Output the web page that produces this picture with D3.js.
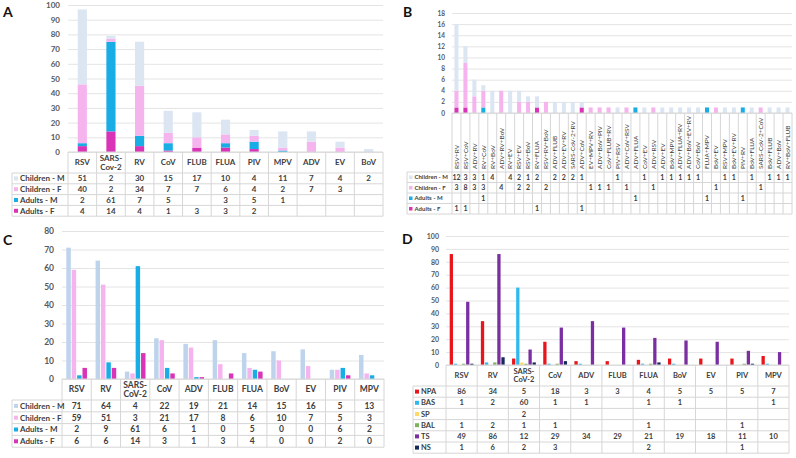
<!DOCTYPE html>
<html><head><meta charset="utf-8">
<script src="https://cdn.jsdelivr.net/npm/d3@7"></script>
<style>body{margin:0;background:#fff} svg{display:block} text{font-family:Lato,"Open Sans",sans-serif}</style>
</head><body><svg id="chart" width="796" height="458"></svg>
<script>
// ---------- Panel A ----------
const catsA = ["RSV","SARS-|Cov-2","RV","CoV","FLUB","FLUA","PIV","MPV","ADV","EV","BoV"];
const childMA = [51,2,30,15,17,10,4,11,7,4,2];
const childFA = [40,2,34,7,7,6,4,2,7,3,null];
const adultMA = [2,61,7,5,null,3,5,1,null,null,null];
const adultFA = [4,14,4,1,3,3,2,null,null,null,null];
const ticksA = [0,10,20,30,40,50,60,70,80,90,100];

// ---------- Panel B ----------
const catsB = ["RSV+RV","RSV+CoV","ADV+RV","RV+CoV","RV+BoV","ADV+RV+BoV","RV+EV","RSV+EV","RSV+BoV","RV+FLUA",
  "RSV+RV+BoV","ADV+FLUB","ADV+EV+RV","SARS-CoV-2+RV","ADV+CoV","EV+MPV+RV","ADV+BoV+PIV","CoV+FLUB+RV","PIV+RSV","ADV+CoV+RSV",
  "ADV+FLUA","CoV+EV","ADV+RSV","ADV+EV","BoV+MPV","ADV+FLUA+RV","ADV+BoV+EV+RV","CoV+BoV","FLUA+MPV","BoV+EV",
  "RSV+MPV","BoV+EV+RV","PIV+RV","BoV+FLUA","SARS-CoV-2+CoV","BoV+FLUB","ADV+BoV","RV+BoV+FLUB"];
const childMB = [12,3,3,1,4,null,4,2,1,2, null,2,2,2,1,null,null,null,1,null, null,1,null,1,1,1,1,1,null,null, 1,1,null,1,null,1,1,1];
const childFB = [3,8,3,3,null,4,null,2,2,null, 2,null,null,null,null,1,1,1,null,1, null,null,1,null,null,null,null,null,null,1, null,null,null,null,1,null,null,null];
const adultMB = [null,null,null,1,null,null,null,null,null,null, null,null,null,null,null,null,null,null,null,null, 1,null,null,null,null,null,null,null,1,null, null,null,1,null,null,null,null,null];
const adultFB = [1,1,null,null,null,null,null,null,null,1, null,null,null,null,1,null,null,null,null,null, null,null,null,null,null,null,null,null,null,null, null,null,null,null,null,null,null,null];
const ticksB = [0,2,4,6,8,10,12,14,16,18];

// ---------- Panel C ----------
const catsC = ["RSV","RV","SARS-|CoV-2","CoV","ADV","FLUB","FLUA","BoV","EV","PIV","MPV"];
const childMC = [71,64,4,22,19,21,14,15,16,5,13];
const childFC = [59,51,3,21,17,8,6,10,7,5,3];
const adultMC = [2,9,61,6,1,0,5,0,0,6,2];
const adultFC = [6,6,14,3,1,3,4,0,0,2,0];
const ticksC = [0,10,20,30,40,50,60,70,80];

// ---------- Panel D ----------
const catsD = ["RSV","RV","SARS-|CoV-2","CoV","ADV","FLUB","FLUA","BoV","EV","PIV","MPV"];
const npaD = [86,34,5,18,3,3,4,5,5,5,7];
const basD = [1,2,60,1,1,null,1,1,null,null,1];
const spD  = [null,null,2,null,null,null,null,null,null,null,null];
const balD = [1,2,1,1,null,null,1,null,null,1,null];
const tsD  = [49,86,12,29,34,29,21,19,18,11,10];
const nsD  = [1,6,2,3,null,null,2,null,null,1,null];
const ticksD = [0,10,20,30,40,50,60,70,80,90,100];

const svg = d3.select("#chart");

function panel(cfg) {
  const g = svg.append("g");
  const n = cfg.cats.length;
  const x = d3.scaleBand().domain(d3.range(n)).range([cfg.x0, cfg.x1]);
  const bw = x.bandwidth();
  const y = d3.scaleLinear().domain([0, cfg.yMax]).range([cfg.yBase, cfg.yTop]);

  // panel letter
  g.append("text").attr("x", cfg.lx).attr("y", cfg.ly).text(cfg.letter)
    .attr("font-family", "Liberation Sans, Arial, sans-serif").attr("font-weight", "bold")
    .attr("font-size", 14).attr("fill", "#111");

  // axis with gridlines
  const ax = g.append("g").attr("transform", `translate(${cfg.x0},0)`)
    .call(d3.axisLeft(y).tickValues(cfg.ticks).tickSize(-(cfg.x1 - cfg.x0)).tickPadding(cfg.x0 - cfg.tickRight));
  ax.select(".domain").remove();
  ax.selectAll(".tick line").attr("stroke", "#e4e4e4");
  ax.selectAll(".tick text").attr("font-size", cfg.fTick).attr("fill", "#595959")
    .attr("font-weight", "bold").style("font-family", "Lato, sans-serif");

  // bars
  if (cfg.mode === "stack") {
    const order = cfg.series.slice().reverse();
    const bwBar = bw * cfg.barFrac;
    for (let i = 0; i < n; i++) {
      let acc = 0;
      order.forEach(s => {
        const v = s.values[i];
        if (v) {
          g.append("rect").attr("x", x(i) + (bw - bwBar) / 2).attr("width", bwBar)
            .attr("y", y(acc + v)).attr("height", y(acc) - y(acc + v)).attr("fill", s.color);
          acc += v;
        }
      });
    }
  } else {
    const inner = d3.scaleBand().domain(d3.range(cfg.series.length)).range([0, bw])
      .paddingInner(cfg.pInner).paddingOuter(cfg.pOuter);
    cfg.series.forEach((s, si) => {
      s.values.forEach((v, i) => {
        if (v) {
          g.append("rect").attr("x", x(i) + inner(si)).attr("width", inner.bandwidth())
            .attr("y", y(v)).attr("height", y(0) - y(v)).attr("fill", s.color);
        }
      });
    });
  }

  // table
  const rows = cfg.series.length;
  const tBottom = cfg.hdrBottom + rows * cfg.rowH;
  const lc = "#d6d6d6";
  g.append("line").attr("x1", cfg.x0).attr("x2", cfg.x1).attr("y1", cfg.yBase).attr("y2", cfg.yBase).attr("stroke", lc);
  for (let r = 0; r <= rows; r++) {
    const yy = cfg.hdrBottom + r * cfg.rowH;
    g.append("line").attr("x1", cfg.legendLeft).attr("x2", cfg.x1).attr("y1", yy).attr("y2", yy).attr("stroke", lc);
  }
  for (let i = 0; i <= n; i++) {
    const xx = cfg.x0 + i * bw;
    g.append("line").attr("x1", xx).attr("x2", xx).attr("y1", cfg.yBase).attr("y2", tBottom).attr("stroke", lc);
  }
  g.append("line").attr("x1", cfg.legendLeft).attr("x2", cfg.legendLeft).attr("y1", cfg.hdrBottom).attr("y2", tBottom).attr("stroke", lc);

  // header
  cfg.cats.forEach((c, i) => {
    const cx = x(i) + bw / 2;
    if (cfg.rotate) {
      g.append("text").attr("transform", `translate(${cx + 2.3},${cfg.hdrBottom - 3}) rotate(-90)`)
        .attr("font-size", cfg.fCat).attr("fill", "#404040").attr("font-weight", "normal").text(c);
    } else {
      const parts = c.split("|");
      const my = (cfg.yBase + cfg.hdrBottom) / 2;
      const t = g.append("text").attr("text-anchor", "middle").attr("font-size", cfg.fCat)
        .attr("fill", "#404040").attr("font-weight", "bold");
      parts.forEach((p, k) => {
        t.append("tspan").attr("x", cx)
          .attr("y", my + (k - (parts.length - 1) / 2) * cfg.fCat * 1.15)
          .attr("dy", "0.35em").text(p);
      });
    }
  });

  // rows
  cfg.series.forEach((s, r) => {
    const my = cfg.hdrBottom + (r + 0.5) * cfg.rowH;
    g.append("rect").attr("x", cfg.legendLeft + 2).attr("y", my - cfg.sw / 2).attr("width", cfg.sw).attr("height", cfg.sw).attr("fill", s.color);
    g.append("text").attr("x", cfg.legendLeft + cfg.sw + 4).attr("y", my).attr("dy", "0.35em")
      .attr("font-size", cfg.fLeg).attr("fill", "#404040").attr("font-weight", "bold").text(s.name);
    s.values.forEach((v, i) => {
      if (v !== null && v !== undefined) {
        g.append("text").attr("x", x(i) + bw / 2).attr("y", my).attr("dy", "0.35em")
          .attr("text-anchor", "middle").attr("font-size", cfg.fVal).attr("fill", "#404040")
          .attr("font-weight", "bold").text(v);
      }
    });
  });
}

const cCM = "#dbe6f2", cCF = "#f6b4ef", cAM = "#19ade6", cAF = "#d933b8";

panel({letter: "A", lx: 3, ly: 17, cats: catsA, mode: "stack", barFrac: 0.32,
  x0: 68, x1: 383, yTop: 5, yBase: 152, yMax: 100, ticks: ticksA, tickRight: 60,
  hdrBottom: 173, rowH: 10.8, legendLeft: 12, sw: 4,
  fTick: 8, fCat: 8, fLeg: 8, fVal: 8,
  series: [
    {name: "Children - M", color: cCM, values: childMA},
    {name: "Children - F", color: cCF, values: childFA},
    {name: "Adults - M", color: cAM, values: adultMA},
    {name: "Adults - F", color: cAF, values: adultFA}]});

panel({letter: "B", lx: 403, ly: 17, cats: catsB, mode: "stack", barFrac: 0.45, rotate: true,
  x0: 452, x1: 792, yTop: 13, yBase: 113, yMax: 18, ticks: ticksB, tickRight: 445,
  hdrBottom: 172, rowH: 10.5, legendLeft: 407, sw: 3.5,
  fTick: 6.5, fCat: 6.5, fLeg: 6, fVal: 7,
  series: [
    {name: "Children - M", color: cCM, values: childMB},
    {name: "Children - F", color: cCF, values: childFB},
    {name: "Adults - M", color: cAM, values: adultMB},
    {name: "Adults - F", color: cAF, values: adultFB}]});

panel({letter: "C", lx: 3, ly: 245, cats: catsC, mode: "group", pInner: 0.17, pOuter: 0.8,
  x0: 62, x1: 384, yTop: 231, yBase: 379, yMax: 80, ticks: ticksC, tickRight: 54,
  hdrBottom: 400, rowH: 11.8, legendLeft: 12, sw: 4,
  fTick: 8.5, fCat: 8.5, fLeg: 8, fVal: 8.5,
  series: [
    {name: "Children - M", color: "#bdd4ec", values: childMC},
    {name: "Children - F", color: cCF, values: childFC},
    {name: "Adults - M", color: cAM, values: adultMC},
    {name: "Adults - F", color: cAF, values: adultFC}]});

panel({letter: "D", lx: 402, ly: 244, cats: catsD, mode: "group", pInner: 0.2, pOuter: 0.9,
  x0: 446, x1: 789, yTop: 236, yBase: 365, yMax: 100, ticks: ticksD, tickRight: 439,
  hdrBottom: 386, rowH: 11.2, legendLeft: 413, sw: 4,
  fTick: 7, fCat: 7.5, fLeg: 7.5, fVal: 7.5,
  series: [
    {name: "NPA", color: "#e8151b", values: npaD},
    {name: "BAS", color: "#2fb9ec", values: basD},
    {name: "SP", color: "#ffd966", values: spD},
    {name: "BAL", color: "#7fb25a", values: balD},
    {name: "TS", color: "#7a2ea0", values: tsD},
    {name: "NS", color: "#15295c", values: nsD}]});
</script></body></html>
